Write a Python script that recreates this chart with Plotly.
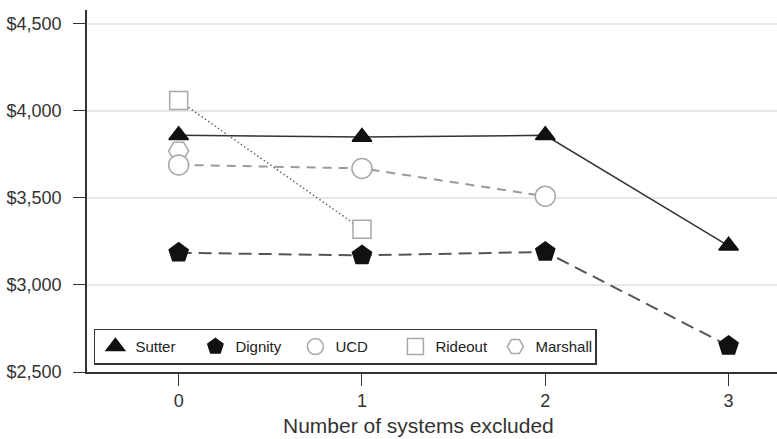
import plotly.graph_objects as go

systems_excluded = [0, 1, 2, 3]
sutter = [3860, 3850, 3860, 3225]
dignity = [3185, 3170, 3190, 2650]
ucd = [3690, 3670, 3510]
rideout = [4060, 3320]
marshall = [3770]
y_ticks = [2500, 3000, 3500, 4000, 4500]
y_tick_labels = ["$" + format(v, ",") for v in y_ticks]
x_title = "Number of systems excluded"

series = [
    # name, values, line colour, dash, line width, symbol, fill, outline, size
    ("Sutter", sutter, "#333333", "solid", 1.5, "triangle-up", "#111111", "#111111", 17),
    ("Dignity", dignity, "#555555", "13px,7px", 2, "pentagon", "#111111", "#111111", 20),
    ("UCD", ucd, "#9a9a9a", "9px,7px", 2, "circle", "#ffffff", "#a8a8a8", 20),
    ("Rideout", rideout, "#666666", "1.5px,2.5px", 1.5, "square", "#ffffff", "#a8a8a8", 18),
    ("Marshall", marshall, "#888888", "solid", 1.5, "hexagon2", "#ffffff", "#a8a8a8", 20),
]

fig = go.Figure()

for name, vals, lc, dash, lw, sym, fill, outline, size in series:
    if len(vals) > 1:
        fig.add_trace(go.Scatter(
            x=systems_excluded[:len(vals)], y=vals, mode="lines",
            line=dict(color=lc, dash=dash, width=lw),
            showlegend=False, hoverinfo="skip"))

draw_order = [4, 0, 1, 3, 2]
for idx in draw_order:
    name, vals, lc, dash, lw, sym, fill, outline, size = series[idx]
    fig.add_trace(go.Scatter(
        x=systems_excluded[:len(vals)], y=vals, mode="markers", name=name,
        marker=dict(symbol=sym, size=size, color=fill,
                    line=dict(color=outline, width=1.5)),
        legendrank=idx + 1))

font_family = "Liberation Sans, Arial, Helvetica, sans-serif"

fig.update_layout(
    width=777, height=439,
    margin=dict(l=87, r=0, t=10, b=67),
    paper_bgcolor="white", plot_bgcolor="white",
    font=dict(family=font_family, color="#333333", size=18),
    showlegend=True,
    legend=dict(
        orientation="h", x=0.01, y=0.02, xanchor="left", yanchor="bottom",
        bgcolor="white", bordercolor="#333333", borderwidth=1.5,
        font=dict(size=15, color="#222222"), entrywidth=55,
        itemsizing="trace", traceorder="normal"),
    xaxis=dict(
        range=[-0.5, 3.264], tickvals=systems_excluded,
        ticks="outside", ticklen=12, tickwidth=1.3, tickcolor="#333333",
        showline=True, linecolor="#333333", linewidth=1.5,
        showgrid=False, zeroline=False,
        tickfont=dict(size=18)),
    yaxis=dict(
        range=[2500, 4580], tickvals=y_ticks, ticktext=y_tick_labels,
        ticks="outside", ticklen=12, tickwidth=1.3, tickcolor="#333333",
        ticklabelstandoff=8,
        showline=True, linecolor="#333333", linewidth=1.5,
        showgrid=True, gridcolor="#e8e8e8", gridwidth=2, zeroline=False,
        tickfont=dict(size=18)),
    annotations=[dict(
        text=x_title, xref="paper", yref="paper", x=0.481, y=-0.147,
        xanchor="center", yanchor="middle", showarrow=False,
        font=dict(size=21, color="#333333"))],
)

fig.write_html("out.html", config={"displayModeBar": False},
               post_script="document.body.style.margin='0px';")
